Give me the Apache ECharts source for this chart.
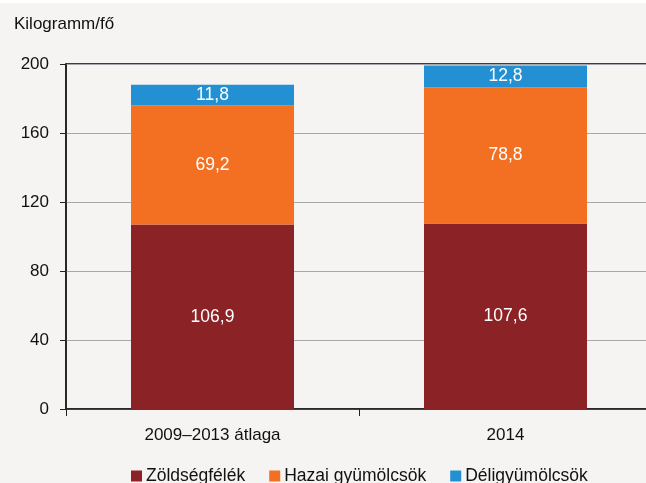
<!DOCTYPE html>
<html>
<head>
<meta charset="utf-8">
<title>Kilogramm/fő</title>
<script src="https://cdn.jsdelivr.net/npm/echarts@6/dist/echarts.min.js"></script>
<style>
  html, body { margin: 0; padding: 0; background: #f5f4f2; overflow: hidden; }
  #chart { width: 660px; height: 483px; border-top: 3px solid #fff; box-sizing: border-box; }
</style>
</head>
<body>
<div id="chart"></div>
<script>
var categories = ['2009–2013 átlaga', '2014'];
var zoldseg = [106.9, 107.6];
var hazai = [69.2, 78.8];
var deli = [11.8, 12.8];
var yTicks = [0, 40, 80, 120, 160, 200];

var font = '"Liberation Sans Narrow", "Arial Narrow", "Liberation Sans", sans-serif';

// magyar tizedesvessző
function fmt(p) {
  return String(p.value).replace('.', ',');
}

var chart = echarts.init(document.getElementById('chart'));
chart.setOption({
  backgroundColor: '#f5f4f2',
  animation: false,
  title: {
    text: 'Kilogramm/fő',
    left: 9, top: 8,
    textStyle: { fontFamily: font, fontSize: 17, fontWeight: 'normal', color: '#111' }
  },
  legend: {
    bottom: -7, left: 126,
    itemWidth: 11, itemHeight: 11, itemGap: 24,
    icon: 'rect',
    textStyle: { fontFamily: font, fontSize: 17.5, color: '#111', padding: [0, 0, 0, -1] },
    data: ['Zöldségfélék', 'Hazai gyümölcsök', 'Déligyümölcsök']
  },
  grid: {
    left: 66, top: 61, width: 586, height: 345,
    show: true, borderColor: '#000', borderWidth: 1.5, backgroundColor: 'transparent'
  },
  xAxis: {
    type: 'category',
    data: categories,
    axisLine: { lineStyle: { color: '#222', width: 1.5 } },
    axisTick: { show: true, length: 7, lineStyle: { color: '#222' } },
    axisLabel: { fontFamily: font, fontSize: 17, color: '#111', margin: 18 }
  },
  yAxis: {
    type: 'value',
    min: yTicks[0], max: yTicks[yTicks.length - 1], interval: 40,
    axisLine: { show: true, lineStyle: { color: '#222', width: 1.5 } },
    axisTick: { show: true, length: 6, lineStyle: { color: '#222' } },
    axisLabel: { fontFamily: font, fontSize: 17, color: '#111', margin: 17 },
    splitLine: { lineStyle: { color: '#a8a8ac', width: 1.2 } }
  },
  series: [
    {
      name: 'Zöldségfélék', type: 'bar', stack: 'a', data: zoldseg, barWidth: 163,
      itemStyle: { color: '#8b2226' },
      label: { show: true, color: '#fff', fontFamily: font, fontSize: 17.5, formatter: fmt }
    },
    {
      name: 'Hazai gyümölcsök', type: 'bar', stack: 'a', data: hazai,
      itemStyle: { color: '#f37022' },
      label: { show: true, color: '#fff', fontFamily: font, fontSize: 17.5, formatter: fmt }
    },
    {
      name: 'Déligyümölcsök', type: 'bar', stack: 'a', data: deli,
      itemStyle: { color: '#2290d2' },
      label: { show: true, color: '#fff', fontFamily: font, fontSize: 17.5, formatter: fmt }
    }
  ]
});
</script>
</body>
</html>
